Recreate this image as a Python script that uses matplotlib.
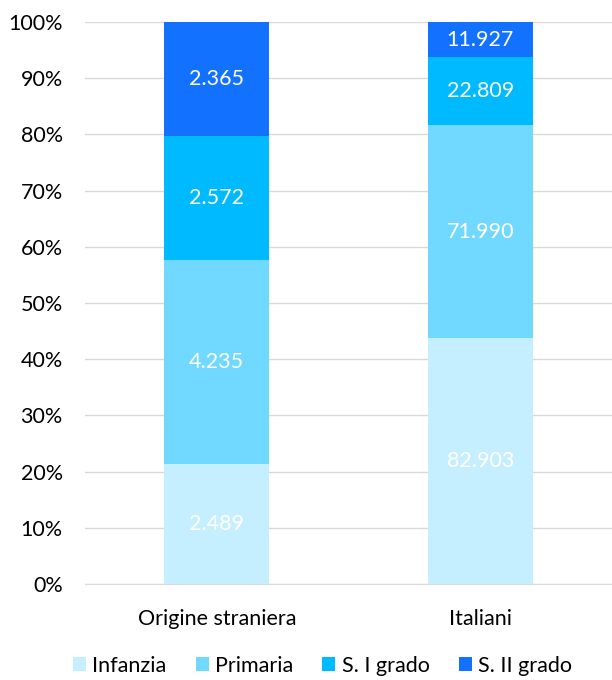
import matplotlib
matplotlib.use("Agg")
import matplotlib.pyplot as plt
import numpy as np
from matplotlib.ticker import FuncFormatter

categories = ["Origine straniera", "Italiani"]
series_names = ["Infanzia", "Primaria", "S. I grado", "S. II grado"]
infanzia = [2489, 82903]
primaria = [4235, 71990]
s1grado = [2572, 22809]
s2grado = [2365, 11927]
colors = ["#C5EEFF", "#71D9FF", "#00BAFF", "#1371FF"]
label_colors = ["white", "white", "white", "white"]

plt.rcParams['font.family'] = ['Lato', 'DejaVu Sans']
FS = 15.5

fig = plt.figure(figsize=(6.12, 6.8), dpi=100)
ax = fig.add_axes([0.139, 0.1412, 0.861, 0.8264])

data = np.array([infanzia, primaria, s1grado, s2grado], dtype=float)
totals = data.sum(axis=0)
pct = data / totals * 100
x = np.arange(len(categories))
bottom = np.zeros(len(categories))
for i, name in enumerate(series_names):
    ax.bar(x, pct[i], 0.4, bottom=bottom, color=colors[i], label=name, zorder=3)
    for j in range(len(categories)):
        val = int(data[i, j])
        txt = f"{val:,}".replace(",", ".")
        ax.text(x[j], bottom[j] + pct[i, j] / 2, txt, ha='center', va='center',
                color=label_colors[i], fontsize=FS, zorder=4)
    bottom += pct[i]

ax.set_xlim(-0.5, 1.5)
ax.set_ylim(0, 100)
ax.set_yticks(np.arange(0, 101, 10))
ax.yaxis.set_major_formatter(FuncFormatter(lambda v, p: f"{int(v)}%"))
ax.grid(axis='y', color='#D9D9D9', linewidth=1, zorder=0)
ax.set_xticks(x)
ax.set_xticklabels(categories)
for s in ['top', 'right', 'left']:
    ax.spines[s].set_visible(False)
ax.spines['bottom'].set_color('#D9D9D9')
ax.tick_params(axis='both', length=0, labelsize=FS, colors='black')
ax.tick_params(axis='y', pad=16)
ax.tick_params(axis='x', pad=18)

handles, labels = ax.get_legend_handles_labels()
fig.legend(handles, labels, loc='lower center', bbox_to_anchor=(0.527, -0.022), ncol=4,
           frameon=False, fontsize=FS, handlelength=0.6, handleheight=0.6,
           handletextpad=0.3, columnspacing=1.35)

fig.savefig("out.png", dpi=100)
